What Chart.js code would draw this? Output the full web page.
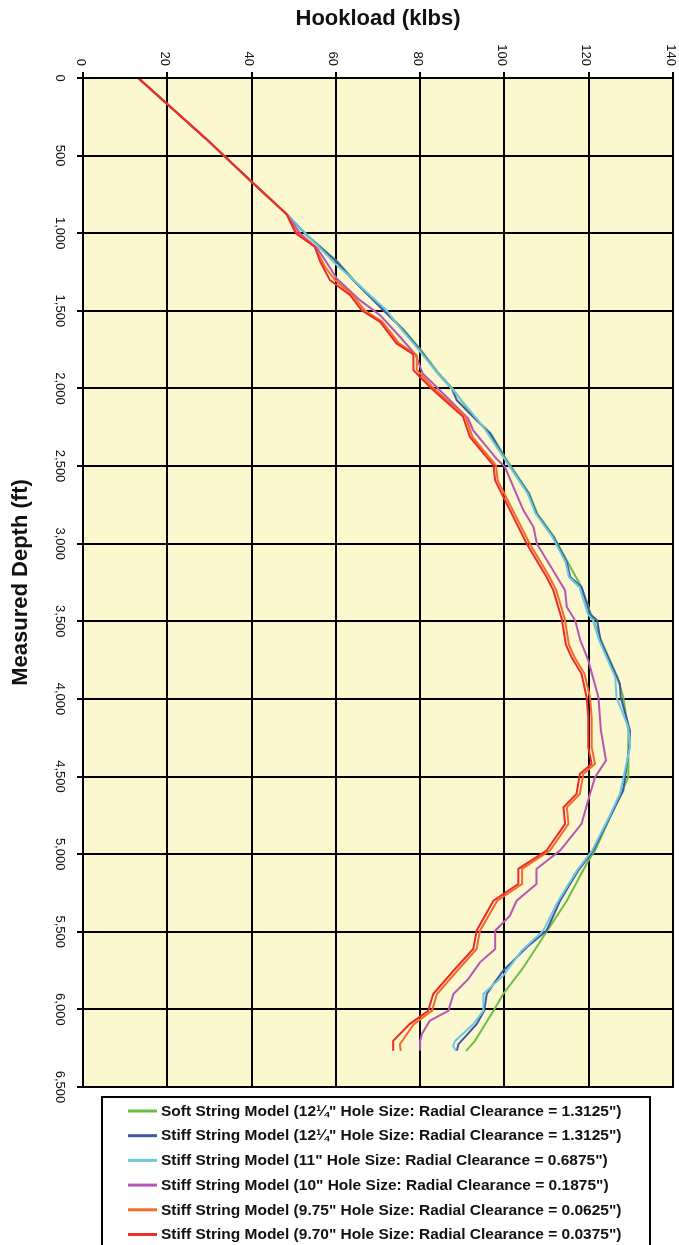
<!DOCTYPE html>
<html>
<head>
<meta charset="utf-8">
<script src="https://cdn.jsdelivr.net/npm/chart.js@4.4.1/dist/chart.umd.min.js"></script>
<style>
  html, body { margin: 0; padding: 0; background: #ffffff; }
  canvas { display: block; }
</style>
</head>
<body>
<canvas id="hookloadChart" width="679" height="1245"></canvas>
<script>
// Axis ticks
const hookloadTicks = [0, 20, 40, 60, 80, 100, 120, 140];
const depthTicks = [0, 500, 1000, 1500, 2000, 2500, 3000, 3500, 4000, 4500, 5000, 5500, 6000, 6500];
const depthTickLabels = ['0', '500', '1,000', '1,500', '2,000', '2,500', '3,000', '3,500', '4,000', '4,500', '5,000', '5,500', '6,000', '6,500'];

// Series names and colours
const seriesLabels = [
  'Soft String Model (12\u00BC" Hole Size: Radial Clearance = 1.3125")',
  'Stiff String Model (12\u00BC" Hole Size: Radial Clearance = 1.3125")',
  'Stiff String Model (11" Hole Size: Radial Clearance = 0.6875")',
  'Stiff String Model (10" Hole Size: Radial Clearance = 0.1875")',
  'Stiff String Model (9.75" Hole Size: Radial Clearance = 0.0625")',
  'Stiff String Model (9.70" Hole Size: Radial Clearance = 0.0375")'
];
const seriesColors = ['#6DBE45', '#3E56A6', '#6CC8DE', '#B556B3', '#F26B2B', '#EE2B24'];

// Vertical section common to every model (depth ft, hookload klbs)
const sharedDepth = [0, 389, 668, 877];
const sharedLoad = [13.1, 29.1, 40.0, 48.3];

// Soft string, 12-1/4" hole
const softDepth = [1014, 1184, 1302, 1496, 1624, 1753, 1893, 2001, 2162, 2291, 2452, 2677, 2806, 2957, 3118, 3280, 3452, 3624, 3860, 3989, 4204, 4503, 4718, 4977, 5042, 5300, 5500, 5730, 5901, 6009, 6203, 6267];
const softLoad = [53.3, 60.4, 64.3, 71.5, 76.2, 80.2, 84.1, 87.7, 92.0, 96.8, 100.3, 105.9, 107.8, 111.8, 115.0, 118.3, 120.5, 123.0, 126.8, 128.2, 129.4, 129.4, 125.8, 121.5, 119.9, 114.8, 110.0, 104.5, 99.7, 97.4, 93.0, 90.9];

// Stiff string, 12-1/4" hole
const stiff1225Depth = [1014, 1184, 1302, 1496, 1624, 1753, 1893, 2001, 2076, 2162, 2291, 2452, 2677, 2806, 2957, 3118, 3215, 3280, 3452, 3495, 3624, 3902, 3989, 4204, 4311, 4590, 4762, 4977, 5106, 5300, 5493, 5600, 5665, 5751, 5837, 5901, 6009, 6095, 6224, 6267];
const stiff1225Load = [53.1, 60.2, 64.1, 71.3, 76.0, 80.0, 83.9, 87.5, 88.7, 91.8, 96.6, 100.1, 105.7, 107.6, 111.6, 114.8, 115.6, 118.3, 120.3, 122.0, 122.8, 127.4, 127.6, 129.8, 129.6, 128.2, 125.0, 121.1, 117.5, 113.2, 110.0, 105.3, 102.9, 99.7, 97.4, 95.8, 95.2, 93.4, 89.1, 88.7];

// Stiff string, 11" hole
const stiff1100Depth = [1001, 1205, 1281, 1399, 1496, 1582, 1710, 1775, 1893, 2001, 2248, 2452, 2677, 2806, 2957, 3118, 3215, 3280, 3452, 3495, 3624, 3860, 3989, 4182, 4311, 4612, 4762, 4977, 5106, 5300, 5493, 5622, 5783, 5901, 6009, 6095, 6203, 6235, 6267];
const stiff1100Load = [52.8, 60.2, 63.4, 68.1, 72.0, 74.4, 78.4, 80.4, 83.9, 87.5, 95.0, 100.0, 105.5, 107.4, 111.4, 114.5, 115.3, 117.8, 119.8, 121.0, 122.5, 126.3, 126.6, 129.4, 129.8, 127.4, 124.8, 120.8, 117.2, 112.8, 109.2, 104.1, 99.7, 95.0, 95.0, 92.6, 88.3, 87.8, 88.5];

// Stiff string, 10" hole
const stiff1000Depth = [1001, 1098, 1205, 1292, 1431, 1528, 1667, 1781, 1904, 1990, 2194, 2270, 2452, 2505, 2785, 2893, 3000, 3247, 3301, 3408, 3495, 3622, 3752, 3989, 4204, 4397, 4504, 4612, 4805, 4977, 5095, 5192, 5300, 5397, 5493, 5611, 5697, 5805, 5901, 6009, 6073, 6159, 6203, 6267];
const stiff1000Load = [51.5, 55.6, 58.2, 60.2, 65.7, 70.5, 75.2, 78.9, 80.6, 83.9, 91.4, 92.6, 98.1, 100.1, 104.5, 106.9, 107.7, 113.2, 114.4, 114.8, 116.8, 118.0, 119.9, 122.3, 122.9, 124.1, 121.5, 120.3, 118.3, 113.2, 107.6, 107.6, 102.9, 101.3, 97.8, 97.8, 94.2, 91.4, 87.9, 86.7, 82.3, 80.4, 80.0, 80.0];

// Stiff string, 9.75" hole
const stiff0975Depth = [1001, 1087, 1216, 1302, 1399, 1496, 1571, 1710, 1786, 1880, 1926, 2001, 2183, 2312, 2495, 2592, 3000, 3215, 3301, 3484, 3650, 3730, 3838, 3989, 4118, 4311, 4418, 4483, 4612, 4698, 4805, 4977, 5095, 5192, 5300, 5493, 5611, 5751, 5901, 6009, 6095, 6224, 6267];
const stiff0975Load = [50.8, 55.0, 57.4, 59.8, 64.0, 66.8, 71.0, 75.0, 79.2, 79.2, 80.8, 83.3, 90.8, 92.4, 98.0, 98.4, 106.0, 110.7, 112.3, 114.3, 115.3, 116.6, 119.0, 120.3, 120.7, 120.7, 121.5, 118.7, 117.9, 114.8, 115.2, 110.8, 104.2, 104.2, 98.3, 94.2, 93.4, 88.8, 84.0, 82.8, 78.5, 75.2, 75.4];

// Stiff string, 9.70" hole
const stiff0970Depth = [1001, 1087, 1184, 1302, 1399, 1496, 1571, 1710, 1780, 1882, 1926, 2001, 2183, 2312, 2495, 2592, 3000, 3215, 3301, 3484, 3650, 3730, 3838, 3989, 4118, 4311, 4418, 4483, 4612, 4698, 4805, 4977, 5095, 5192, 5300, 5493, 5611, 5751, 5901, 6009, 6095, 6203, 6267];
const stiff0970Load = [50.5, 55.0, 56.3, 58.6, 63.4, 66.1, 70.5, 74.4, 78.4, 78.4, 80.0, 82.7, 90.2, 91.8, 97.4, 97.8, 105.3, 110.0, 111.6, 113.6, 114.6, 115.9, 118.3, 119.5, 119.9, 119.9, 120.7, 117.9, 117.1, 114.0, 114.4, 110.0, 103.3, 103.3, 97.4, 93.4, 92.6, 87.9, 83.1, 81.9, 77.5, 73.6, 73.6];

const seriesDepths = [softDepth, stiff1225Depth, stiff1100Depth, stiff1000Depth, stiff0975Depth, stiff0970Depth];
const seriesLoads = [softLoad, stiff1225Load, stiff1100Load, stiff1000Load, stiff0975Load, stiff0970Load];

function toPoints(depths, loads) {
  const d = sharedDepth.concat(depths);
  const l = sharedLoad.concat(loads);
  return d.map((depth, i) => ({ x: l[i], y: depth }));
}

const datasets = seriesLabels.map((label, i) => ({
  label: label,
  data: toPoints(seriesDepths[i], seriesLoads[i]),
  borderColor: seriesColors[i],
  backgroundColor: seriesColors[i],
  borderWidth: 2,
  pointRadius: 0,
  tension: 0,
  fill: false,
  order: seriesLabels.length - 1 - i
}));

const FONT = "'Liberation Sans', Arial, Helvetica, sans-serif";

// Pale plot background
const plotBackground = {
  id: 'plotBackground',
  beforeDraw(chart) {
    const { ctx, chartArea: a } = chart;
    ctx.save();
    ctx.fillStyle = '#FBF7CF';
    ctx.fillRect(a.left, a.top, a.right - a.left, a.bottom - a.top);
    ctx.restore();
  }
};

// Frame, rotated tick labels and boxed legend
const decorations = {
  id: 'decorations',
  afterDraw(chart) {
    const { ctx, chartArea: a } = chart;
    const xs = chart.scales.x;
    const ys = chart.scales.y;
    ctx.save();
    ctx.strokeStyle = '#000';
    ctx.lineWidth = 2;
    ctx.strokeRect(a.left, a.top, a.right - a.left, a.bottom - a.top);

    ctx.fillStyle = '#111';
    ctx.font = '13px ' + FONT;
    hookloadTicks.forEach((v) => {
      const px = xs.getPixelForValue(v);
      ctx.save();
      ctx.translate(px - 6.5, 66);
      ctx.rotate(Math.PI / 2);
      ctx.textAlign = 'right';
      ctx.textBaseline = 'alphabetic';
      ctx.fillText(String(v), 0, 0);
      ctx.restore();
    });
    depthTicks.forEach((d, i) => {
      const py = ys.getPixelForValue(d);
      ctx.save();
      ctx.translate(55.5, py);
      ctx.rotate(Math.PI / 2);
      ctx.textAlign = 'center';
      ctx.textBaseline = 'alphabetic';
      ctx.fillText(depthTickLabels[i], 0, 0);
      ctx.restore();
    });

    // legend box
    ctx.strokeStyle = '#000';
    ctx.lineWidth = 2;
    ctx.strokeRect(102, 1097, 548, 160);
    ctx.font = 'bold 15.5px ' + FONT;
    ctx.textAlign = 'left';
    ctx.textBaseline = 'middle';
    chart.data.datasets.forEach((ds, i) => {
      const y = 1111 + i * 24.7;
      ctx.strokeStyle = ds.borderColor;
      ctx.lineWidth = 3;
      ctx.beginPath();
      ctx.moveTo(128, y);
      ctx.lineTo(157, y);
      ctx.stroke();
      ctx.fillStyle = '#111';
      ctx.fillText(ds.label, 161, y + 0.5);
    });
    ctx.restore();
  }
};

new Chart(document.getElementById('hookloadChart'), {
  type: 'line',
  data: { datasets: datasets },
  options: {
    indexAxis: 'y',
    responsive: false,
    animation: false,
    devicePixelRatio: 1,
    layout: { padding: { top: 0, left: 0, right: 6, bottom: 158 } },
    plugins: {
      legend: { display: false },
      tooltip: { enabled: false }
    },
    scales: {
      x: {
        type: 'linear',
        position: 'top',
        min: 0,
        max: 140,
        ticks: { display: false, stepSize: 20 },
        grid: { color: '#000', lineWidth: 2, tickLength: 6, tickColor: '#000', tickWidth: 2 },
        border: { display: true, color: '#000', width: 2 },
        title: {
          display: true,
          text: 'Hookload (klbs)',
          color: '#111',
          font: { family: FONT, size: 22, weight: 'bold' },
          padding: { top: 6, bottom: 0 }
        },
        afterFit(scale) { scale.height = 78; }
      },
      y: {
        type: 'linear',
        position: 'left',
        reverse: true,
        min: 0,
        max: 6500,
        ticks: { display: false, stepSize: 500 },
        grid: { color: '#000', lineWidth: 2, tickLength: 6, tickColor: '#000', tickWidth: 2 },
        border: { display: true, color: '#000', width: 2 },
        title: {
          display: true,
          text: 'Measured Depth (ft)',
          color: '#111',
          font: { family: FONT, size: 22, weight: 'bold' },
          padding: { top: 8, bottom: 0 }
        },
        afterFit(scale) { scale.width = 83; }
      }
    }
  },
  plugins: [plotBackground, decorations]
});
</script>
</body>
</html>
